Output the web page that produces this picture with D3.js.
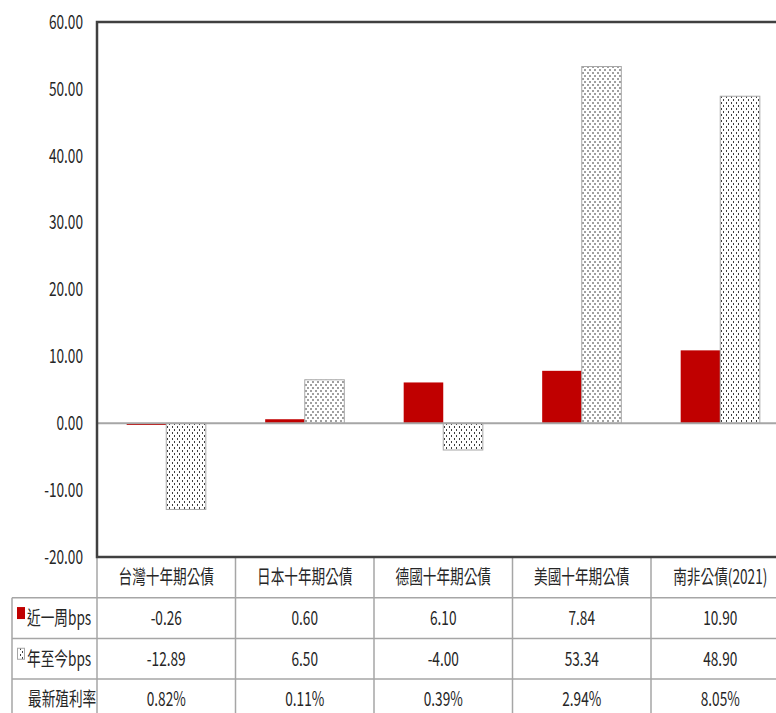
<!DOCTYPE html>
<html>
<head>
<meta charset="utf-8">
<script src="https://cdn.jsdelivr.net/npm/d3@7"></script>
<style>
  body { margin: 0; background: #fff; }
  text { font-family: "Noto Sans CJK TC", sans-serif; fill: #262626; }
</style>
</head>
<body>
<div id="chart"></div>
<script>

// data
const categories = ["台灣十年期公債", "日本十年期公債", "德國十年期公債", "美國十年期公債", "南非公債(2021)"];
const weekBps = [-0.26, 0.60, 6.10, 7.84, 10.90];
const ytdBps = [-12.89, 6.50, -4.00, 53.34, 48.90];
const latestYield = ["0.82%", "0.11%", "0.39%", "2.94%", "8.05%"];
const seriesNames = ["近一周bps", "年至今bps"];
const yieldLabel = "最新殖利率";
const yTicks = [-20, -10, 0, 10, 20, 30, 40, 50, 60];

const W = 776, H = 713;
const plotLeft = 97, plotTop = 22, plotBottom = 557;
const colW = 138.5;
const rowH = 40.7;
const squeeze = 0.7;   // text in the original is horizontally narrow

// plain hyphen for negatives, like the original
const fmt = d3.formatLocale({decimal: ".", thousands: ",", grouping: [3], currency: ["", ""], minus: "-"}).format(".2f");

const svg = d3.select("#chart").append("svg")
    .attr("width", W)
    .attr("height", H);

// dotted fill for the year-to-date bars
const defs = svg.append("defs");
const pat = defs.append("pattern")
    .attr("id", "dots")
    .attr("patternUnits", "userSpaceOnUse")
    .attr("width", 10)
    .attr("height", 6);
pat.append("rect").attr("width", 10).attr("height", 6).attr("fill", "#fff");
[[0, 0], [5, 0], [2, 3], [7, 3]].forEach(([px, py]) => {
    pat.append("rect").attr("x", px).attr("y", py).attr("width", 1).attr("height", 2).attr("fill", "#404040");
});

// scales
const x = d3.scaleBand()
    .domain(categories)
    .range([plotLeft, plotLeft + colW * categories.length])
    .paddingInner(0);

const xSub = d3.scaleBand()
    .domain(seriesNames)
    .range([0, x.bandwidth()])
    .paddingInner(0)
    .paddingOuter(0.75);

const y = d3.scaleLinear()
    .domain([-20, 60])
    .range([plotBottom, plotTop]);

// helper for narrow text
function label(g, txt, tx, ty, anchor) {
    return g.append("text")
        .attr("transform", `translate(${tx},${ty}) scale(${squeeze},1)`)
        .attr("text-anchor", anchor)
        .attr("dy", "0.35em")
        .attr("font-size", 19.5)
        .text(txt);
}

// y tick labels
const yAxis = svg.append("g").attr("class", "y-axis");
yTicks.forEach(t => label(yAxis, fmt(t), 83, y(t), "end"));

// bars
const rows = categories.map((c, i) => ({cat: c, vals: [weekBps[i], ytdBps[i]]}));

const groups = svg.append("g").selectAll("g")
    .data(rows)
    .join("g")
    .attr("transform", d => `translate(${x(d.cat)},0)`);

groups.selectAll("rect")
    .data(d => d.vals.map((v, j) => ({s: seriesNames[j], v: v})))
    .join("rect")
    .attr("x", d => xSub(d.s))
    .attr("width", xSub.bandwidth())
    .attr("y", d => y(Math.max(0, d.v)))
    .attr("height", d => Math.abs(y(d.v) - y(0)))
    .attr("fill", d => d.s === seriesNames[0] ? "#c00000" : "url(#dots)")
    .attr("stroke", d => d.s === seriesNames[0] ? "none" : "#a6a6a6")
    .attr("stroke-width", 1);

// zero line
svg.append("line")
    .attr("x1", plotLeft).attr("x2", W)
    .attr("y1", y(0)).attr("y2", y(0))
    .attr("stroke", "#a6a6a6")
    .attr("stroke-width", 2);

// data table grid
const grid = svg.append("g").attr("stroke", "#a6a6a6").attr("stroke-width", 1.5);
const tableRight = plotLeft + colW * categories.length;
for (let r = 1; r <= 3; r++) {
    grid.append("line")
        .attr("x1", 12).attr("x2", tableRight)
        .attr("y1", plotBottom + r * rowH).attr("y2", plotBottom + r * rowH);
}
grid.append("line")
    .attr("x1", 12).attr("x2", 12)
    .attr("y1", plotBottom + rowH).attr("y2", H);
categories.forEach(c => {
    grid.append("line")
        .attr("x1", x(c) + x.bandwidth()).attr("x2", x(c) + x.bandwidth())
        .attr("y1", plotBottom).attr("y2", H);
});
grid.append("line")
    .attr("x1", plotLeft).attr("x2", plotLeft)
    .attr("y1", plotBottom).attr("y2", H);

// plot area border
svg.append("rect")
    .attr("x", plotLeft).attr("y", plotTop)
    .attr("width", tableRight - plotLeft)
    .attr("height", plotBottom - plotTop)
    .attr("fill", "none")
    .attr("stroke", "#404040")
    .attr("stroke-width", 2.5);

// table text
const table = svg.append("g");
const midRow = r => plotBottom + rowH * r + rowH / 2;
categories.forEach((c, i) => {
    const cx = x(c) + x.bandwidth() / 2;
    label(table, c, cx, midRow(0), "middle");
    label(table, fmt(weekBps[i]), cx, midRow(1), "middle");
    label(table, fmt(ytdBps[i]), cx, midRow(2), "middle");
    label(table, latestYield[i], cx, midRow(3), "middle");
});

// row headers with legend keys
table.append("rect")
    .attr("x", 17).attr("y", midRow(1) - 11)
    .attr("width", 8).attr("height", 12)
    .attr("fill", "#c00000");
table.append("rect")
    .attr("x", 17.5).attr("y", midRow(2) - 10.5)
    .attr("width", 7).attr("height", 11)
    .attr("fill", "url(#dots)")
    .attr("stroke", "#a6a6a6");
label(table, seriesNames[0], 27, midRow(1), "start");
label(table, seriesNames[1], 27, midRow(2), "start");
label(table, yieldLabel, 28, midRow(3), "start");

</script>
</body>
</html>
